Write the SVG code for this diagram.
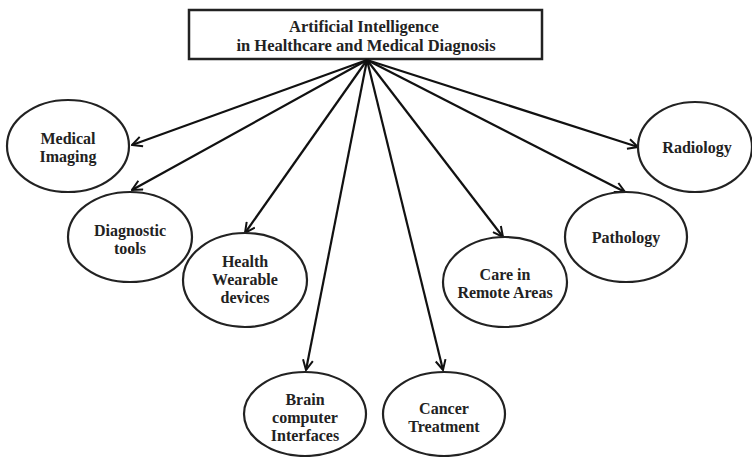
<svg xmlns="http://www.w3.org/2000/svg" width="752" height="457" viewBox="0 0 752 457">
<style>
.box{fill:#fff;stroke:#222;stroke-width:2.5}
.node{fill:#fff;stroke:#222;stroke-width:2.2}
.lbl{font-family:"Liberation Serif","Times New Roman",serif;font-weight:bold;font-size:16px;fill:#222;text-anchor:middle}
.edge{stroke:#111;stroke-width:2.2;fill:none;marker-end:url(#arr)}
</style>
<defs>
<marker id="arr" viewBox="0 0 12 12" refX="11" refY="6" markerWidth="12" markerHeight="12" markerUnits="userSpaceOnUse" orient="auto">
<polyline points="1,1 11,6 1,11" fill="none" stroke="#111" stroke-width="2"/>
</marker>
</defs>
<g id="title">
<rect class="box" x="189" y="10" width="353" height="49"/>
<text class="lbl" y="32" style="font-size:16.5px"><tspan x="364">Artificial Intelligence</tspan><tspan x="366" dy="18.5">in Healthcare and Medical Diagnosis</tspan></text>
</g>
<g id="connectors">
<line class="edge" x1="367" y1="60" x2="132" y2="145"/>
<line class="edge" x1="367" y1="60" x2="132" y2="190"/>
<line class="edge" x1="367" y1="60" x2="245" y2="233"/>
<line class="edge" x1="367" y1="60" x2="306" y2="370"/>
<line class="edge" x1="367" y1="60" x2="443" y2="370"/>
<line class="edge" x1="367" y1="60" x2="503" y2="237"/>
<line class="edge" x1="367" y1="60" x2="625" y2="192"/>
<line class="edge" x1="367" y1="60" x2="638" y2="147"/>
</g>
<g id="medical-imaging">
<ellipse class="node" cx="68" cy="146" rx="61" ry="46"/>
<text class="lbl" y="144"><tspan x="68">Medical</tspan><tspan x="68" dy="18">Imaging</tspan></text>
</g>
<g id="diagnostic-tools">
<ellipse class="node" cx="130" cy="237" rx="62" ry="45"/>
<text class="lbl" y="236"><tspan x="130">Diagnostic</tspan><tspan x="130" dy="18">tools</tspan></text>
</g>
<g id="health-wearable">
<ellipse class="node" cx="245" cy="280" rx="62" ry="47"/>
<text class="lbl" y="267"><tspan x="245">Health</tspan><tspan x="245" dy="18">Wearable</tspan><tspan x="245" dy="18">devices</tspan></text>
</g>
<g id="brain-computer">
<ellipse class="node" cx="305" cy="414" rx="61" ry="42"/>
<text class="lbl" y="405"><tspan x="305">Brain</tspan><tspan x="305" dy="18">computer</tspan><tspan x="305" dy="18">Interfaces</tspan></text>
</g>
<g id="cancer-treatment">
<ellipse class="node" cx="444" cy="414" rx="61" ry="42"/>
<text class="lbl" y="414"><tspan x="444">Cancer</tspan><tspan x="444" dy="18">Treatment</tspan></text>
</g>
<g id="care-remote">
<ellipse class="node" cx="505" cy="282" rx="62" ry="45"/>
<text class="lbl" y="280"><tspan x="505">Care in</tspan><tspan x="505" dy="18">Remote Areas</tspan></text>
</g>
<g id="pathology">
<ellipse class="node" cx="626" cy="237" rx="61" ry="45"/>
<text class="lbl" x="626" y="243">Pathology</text>
</g>
<g id="radiology">
<ellipse class="node" cx="695" cy="147" rx="57" ry="45"/>
<text class="lbl" x="697" y="153">Radiology</text>
</g>
</svg>
